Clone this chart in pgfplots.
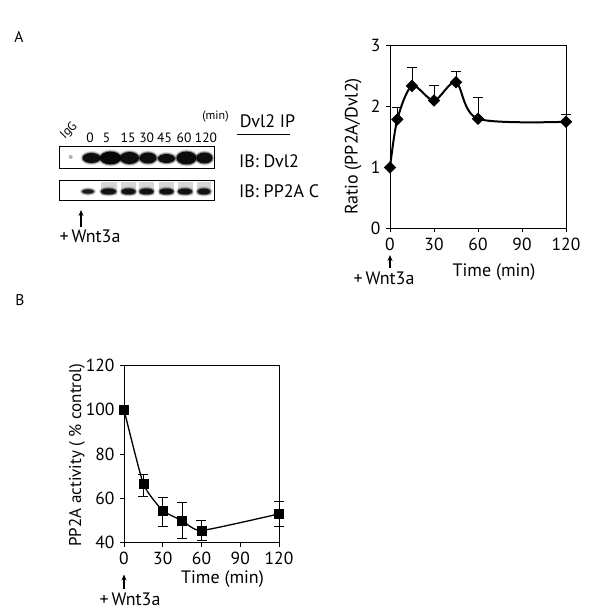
\documentclass[border=0pt]{standalone}
\usepackage{pgfplots}
\pgfplotsset{compat=1.18}
\usepackage{fontspec}
\setmainfont{PT Sans}
\usetikzlibrary{arrows.meta}
\newcommand\band[5]{%
 \fill[black,opacity=0.15] (#1,#2) ellipse ({#3+2} and {#4+2});
 \fill[black,opacity=0.35] (#1,#2) ellipse ({#3+1} and {#4+1});
 \fill[black,opacity=#5] (#1,#2) ellipse (#3 and #4);}
\newcommand\smear[2]{%
 \fill[black,opacity=0.16] ({#1-#2},416) rectangle ({#1+#2},429);}
\newcommand\bigf{\fontsize{18}{21}\selectfont}
\pgfplotstableread{
t r e
0 1.00 0
5 1.79 0.20
15 2.34 0.31
30 2.10 0.25
45 2.40 0.17
60 1.80 0.35
120 1.75 0.12
}\dataA
\pgfplotstableread{
t v ep em
0 100 0 0
15 66.5 4.5 5.5
30 54.5 6 7
45 50 8 8
60 45.5 4.5 4.5
120 53 5.5 5.5
}\dataB
\begin{document}
\begin{tikzpicture}[x=1pt,y=1pt]
\path[use as bounding box] (0,0) rectangle (600,611);
\pgfplotsset{
  myax/.style={
    anchor=south west, scale only axis, clip=false,
    xmin=0,xmax=120, xtick={0,30,60,90,120},
    tick align=outside, xtick pos=left, ytick pos=left,
    major tick length=4pt,
    axis line style={line width=0.8pt},
    tick style={line width=0.8pt, black},
    /pgf/number format/assume math mode=true,
    ticklabel style={font=\fontsize{17.5}{20}\selectfont},
    yticklabel style={xshift=-2pt}, xticklabel style={yshift=-2pt},
  }
}
% ---------- Panel A chart ----------
\begin{axis}[myax, at={(390pt,382.7pt)}, width=176pt, height=182.6pt,
  ymin=0, ymax=3, ytick={0,1,2,3}]
\addplot+[black, line width=2pt, smooth, tension=0.5,
  mark=square*, mark size=4.1pt,
  mark options={rotate=45, fill=black, solid, line width=0.5pt},
  error bars/.cd, y dir=plus, y explicit,
  error bar style={line width=0.8pt, solid},
  error mark options={rotate=90, mark size=5pt, line width=0.8pt}]
  table[x=t, y=r, y error=e] {\dataA};
\end{axis}
% ---------- Panel B chart ----------
\begin{axis}[myax, at={(124pt,68.3pt)}, width=155pt, height=177.3pt,
  ymin=40, ymax=120, ytick={40,60,80,100,120}]
\addplot+[black, line width=1.3pt, smooth, tension=0.3,
  mark=square*, mark size=4.5pt,
  mark options={fill=black, solid, line width=0.5pt},
  error bars/.cd, y dir=both, y explicit,
  error bar style={line width=0.8pt, solid},
  error mark options={rotate=90, mark size=5pt, line width=0.8pt}]
  table[x=t, y=v, y error plus=ep, y error minus=em] {\dataB};
\end{axis}
% ---------- labels ----------
\node[font=\fontsize{15.5}{18}\selectfont] at (19,574.3) {A};
\node[font=\fontsize{15.5}{18}\selectfont] at (20,311) {B};
% chart A texts
\node[rotate=90, font=\bigf] at (353.3,464.5) {Ratio (PP2A/Dvl2)};
\node[font=\bigf] at (494,339.3) {Time (min)};
\draw[line width=1.2pt, -{Stealth[length=6pt,width=5pt]}] (390,343) -- (390,356);
\node[font=\bigf] at (384,333) {+\,Wnt3a};
% chart B texts
\node[rotate=90, font=\fontsize{17}{20}\selectfont] at (77,156) {PP2A activity ( \% control)};
\node[font=\bigf] at (222.5,31.7) {Time (min)};
\draw[line width=1.2pt, -{Stealth[length=6pt,width=5pt]}] (124,22) -- (124,36.5);
\node[font=\bigf] at (130,11.7) {+\,Wnt3a};
% ---------- blot ----------
\begin{scope}
\fill[black,opacity=0.3] (70.7,454) circle (2);
\band{91.5}{453}{9}{5}{0.9}
\band{110.5}{453}{10.5}{6.5}{0.95}
\band{129.5}{453}{9.5}{6}{0.9}
\band{148}{453}{8.5}{5.5}{0.9}
\band{166.5}{452.5}{8.5}{4.5}{0.9}
\band{186.5}{453}{10}{6.5}{0.92}
\band{204.5}{453}{8}{5.5}{0.9}
\smear{108.5}{8}\smear{128.5}{7.5}\smear{146.5}{7.5}\smear{166.5}{7.5}\smear{185}{7.5}\smear{204}{7}
\band{88}{419.5}{6}{2.2}{0.8}
\band{108.5}{419.5}{7.5}{3}{0.85}
\band{128.5}{419.5}{7}{3}{0.85}
\band{146.5}{419.5}{7}{3}{0.85}
\band{166.5}{419.5}{7}{3}{0.85}
\band{185}{419.5}{7}{3}{0.85}
\band{204}{419.5}{6.5}{3}{0.85}
\end{scope}
\draw[line width=1.2pt] (59.3,442.7) rectangle (214.5,464.3);
\draw[line width=1.2pt] (59.3,410.5) rectangle (214.5,430.3);
\begin{scope}[font=\fontsize{13.5}{15}\selectfont]
\node at (90,473.3) {0};
\node at (106.5,473.3) {5};
\node at (128,473.3) {15};
\node at (146.7,473.3) {30};
\node at (164.5,473.3) {45};
\node at (184,473.3) {60};
\node at (206,473.3) {120};
\node[rotate=45, inner sep=0pt, font=\fontsize{12.5}{14}\selectfont] at (69,480) {IgG};
\end{scope}
\node[font=\fontsize{12}{14}\selectfont] at (215.5,494.3) {(min)};
\node[font=\bigf] at (267.5,489.3) {Dvl2 IP};
\draw[line width=0.9pt] (236.7,476.7) -- (290,476.7);
\node[font=\bigf, anchor=west, inner sep=0pt] at (239,450) {IB: Dvl2};
\node[font=\bigf, anchor=west, inner sep=0pt] at (239,419.3) {IB: PP2A C};
\draw[line width=1.2pt, -{Stealth[length=6pt,width=5pt]}] (81,384.3) -- (81,401);
\node[font=\bigf] at (90,374.3) {+\,Wnt3a};
\end{tikzpicture}
\end{document}
